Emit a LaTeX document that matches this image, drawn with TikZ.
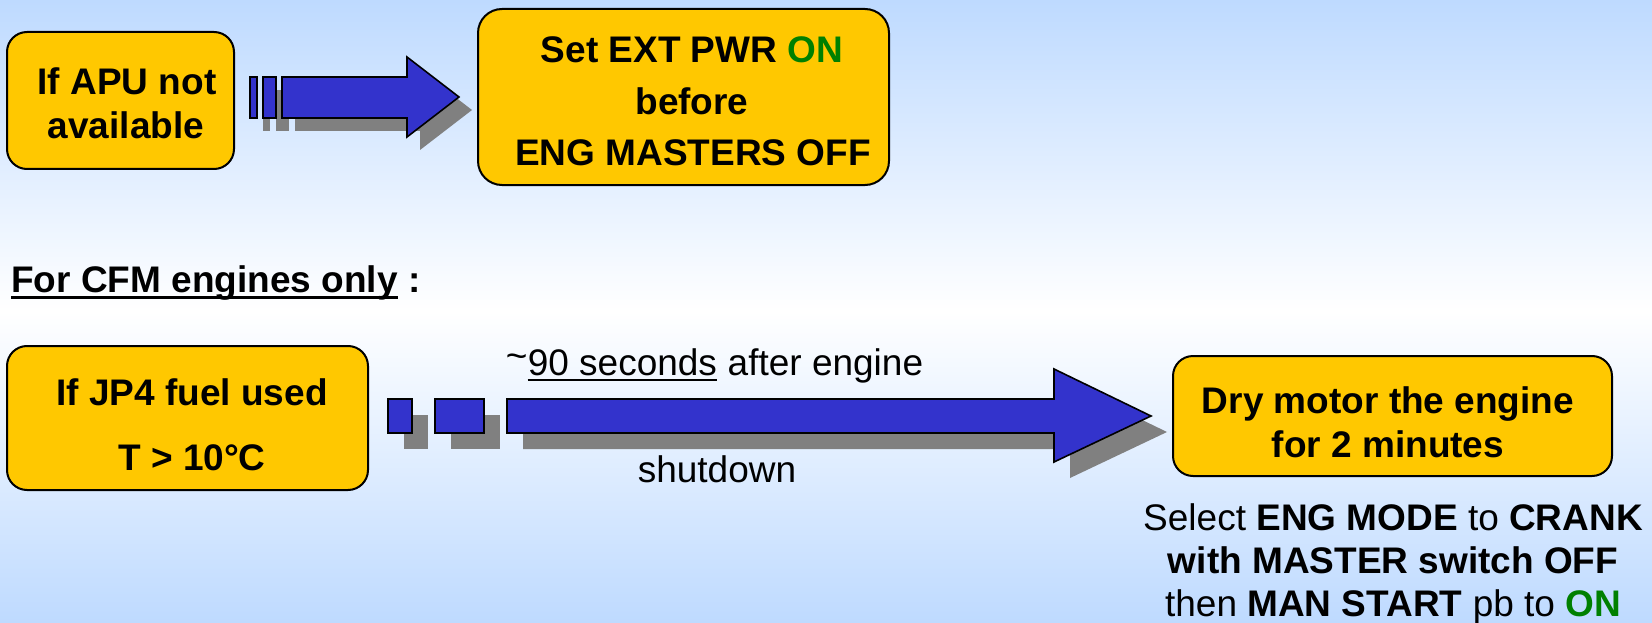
\documentclass[tikz,border=0pt]{standalone}
\usepackage{fontspec}
\setmainfont{Liberation Sans}
\definecolor{boxyellow}{RGB}{255,200,0}
\definecolor{arrowblue}{RGB}{51,51,204}
\definecolor{shadowgray}{RGB}{128,128,128}
\definecolor{ongreen}{RGB}{0,128,0}
\definecolor{bgblue}{RGB}{190,218,255}
\begin{document}
\begin{tikzpicture}[x=1pt,y=-1pt,
  box/.style={draw=black, line width=2pt, fill=boxyellow, rounded corners=20pt, inner sep=0pt},
  blk/.style={draw=black, line width=1.6pt, fill=arrowblue, line join=miter},
  shad/.style={fill=shadowgray},
  txt/.style={anchor=base, inner sep=0pt, font=\fontsize{37}{44}\selectfont},
  txtb/.style={anchor=base, inner sep=0pt, font=\fontsize{37}{44}\selectfont\bfseries}
]
\useasboundingbox (0,0) rectangle (1652,623);
\shade[top color=bgblue, bottom color=bgblue, middle color=white] (0,0) rectangle (1652,623);

% boxes
\node[box, minimum width=227pt, minimum height=137pt] (b1) at (120.5,100.5) {};
\node[box, minimum width=411pt, minimum height=176pt, rounded corners=24pt] (b2) at (683.5,97) {};
\node[box, minimum width=361pt, minimum height=144pt] (b3) at (187.5,418) {};
\node[box, minimum width=439pt, minimum height=120pt] (b4) at (1392.5,416) {};

% box texts
\node[txtb] (t1a) at (127,95) {If APU not};
\node[txtb] (t1b) at (126,139) {available};
\node[txtb] (t2a) at (692,63) {Set EXT PWR \textcolor{ongreen}{ON}};
\node[txtb] (t2b) at (692,115) {before};
\node[txtb] (t2c) at (693,166) {ENG MASTERS OFF};
\node[txtb] (t3a) at (192,405) {If JP4 fuel used};
\node[txtb] (t3b) at (192,470) {T > 10°C};
\node[txtb] (t4a) at (1388,413) {Dry motor the engine};
\node[txtb] (t4b) at (1388,457) {for 2 minutes};

% heading
\node[txtb, anchor=base west] (cfm) at (11,292) {For CFM engines only};
\node[txtb, anchor=base west] (cfmc) at (cfm.base east) {\hspace{0.278em}:};
\draw[line width=3pt] ([yshift=-5pt]cfm.base west) -- ([yshift=-5pt]cfm.base east);

% arrow 1 (shadow then body)
\begin{scope}[shift={(13,13)}]
  \fill[shad] (250,77) rectangle (257,118);
  \fill[shad] (263,77) rectangle (276,118);
  \fill[shad] (282,77) -- (407,77) -- (407,57) -- (459,97) -- (407,137) -- (407,118) -- (282,118) -- cycle;
\end{scope}
\draw[blk] (250,77) rectangle (257,118);
\draw[blk] (263,77) rectangle (276,118);
\draw[blk] (282,77) -- (407,77) -- (407,57) -- (459,97) -- (407,137) -- (407,118) -- (282,118) -- cycle;

% arrow 2 (shadow then body)
\begin{scope}[shift={(16,16)}]
  \fill[shad] (388,399) rectangle (412,433);
  \fill[shad] (435,399) rectangle (484,433);
  \fill[shad] (507,399) -- (1054,399) -- (1054,369) -- (1151,416) -- (1054,462) -- (1054,433) -- (507,433) -- cycle;
\end{scope}
\draw[blk] (388,399) rectangle (412,433);
\draw[blk] (435,399) rectangle (484,433);
\draw[blk] (507,399) -- (1054,399) -- (1054,369) -- (1151,416) -- (1054,462) -- (1054,433) -- (507,433) -- cycle;

% arrow labels
\node[txt, anchor=base west] (l1b) at (527.6,375) {90 seconds};
\node[txt, anchor=base east] (l1a) at (l1b.base west) {\raisebox{0.18em}{\textasciitilde}};
\node[txt, anchor=base west] (l1c) at (l1b.base east) {\hspace{0.278em}after engine};
\draw[line width=2pt] ([yshift=-4.5pt]l1b.base west) -- ([yshift=-4.5pt]l1b.base east);
\node[txt] (l2) at (717,482) {shutdown};

% instruction below box 4
\node[txt] (i1) at (1393,530) {Select \textbf{ENG MODE} to \textbf{CRANK}};
\node[txt] (i2) at (1393,573) {\textbf{with MASTER switch OFF}};
\node[txt] (i3) at (1393,616) {then \textbf{MAN START} pb to \textbf{\textcolor{ongreen}{ON}}};
\end{tikzpicture}
\end{document}
